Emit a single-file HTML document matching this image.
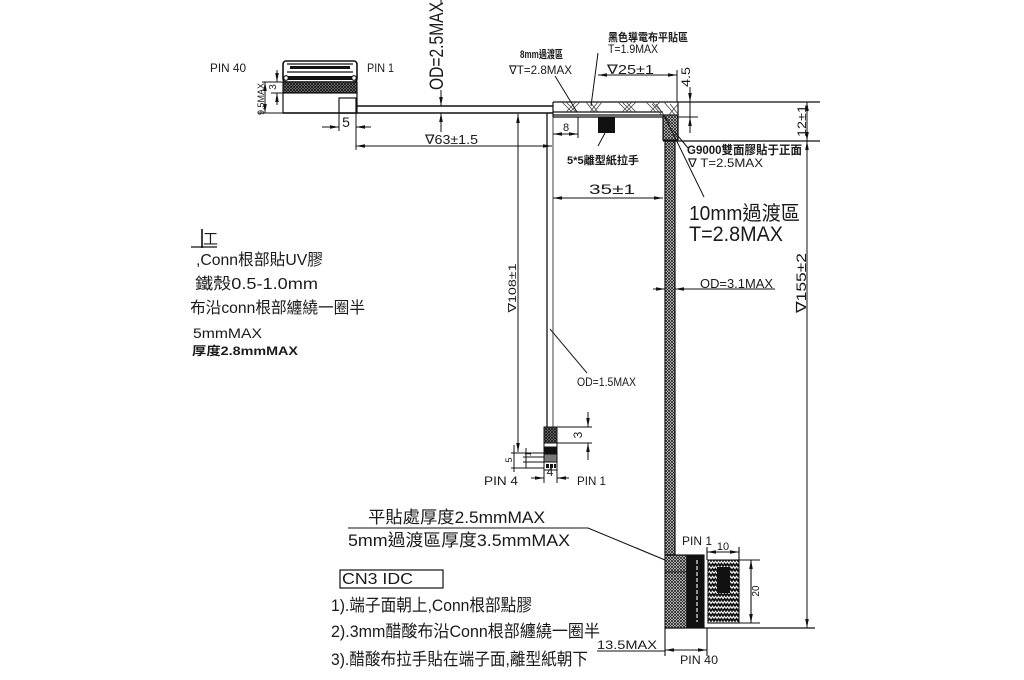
<!DOCTYPE html>
<html><head><meta charset="utf-8">
<style>
html,body{margin:0;padding:0;background:#fff;}
body{width:1024px;height:680px;overflow:hidden}
svg{display:block}
text{font-family:"Liberation Sans","DejaVu Sans","Noto Sans CJK TC",sans-serif;fill:#1a1a1a;stroke:none}
.b{font-weight:bold}
</style></head><body>
<svg width="1024" height="680" viewBox="0 0 1024 680" xmlns="http://www.w3.org/2000/svg">
<defs>
<marker id="ar" viewBox="0 0 10 4" refX="10" refY="2" markerWidth="9" markerHeight="3.6" orient="auto-start-reverse" markerUnits="userSpaceOnUse"><path d="M0,0 L10,2 L0,4z" fill="#111"/></marker>
<pattern id="ck" width="3" height="3" patternUnits="userSpaceOnUse"><rect width="3" height="3" fill="#fff"/><path d="M0,0L3,3M3,0L0,3" stroke="#222" stroke-width="0.9"/></pattern>
<pattern id="xd" width="3" height="3" patternUnits="userSpaceOnUse"><rect width="3" height="3" fill="#8a8a8a"/><path d="M0,0L3,3M3,0L0,3" stroke="#111" stroke-width="0.8"/></pattern>
<pattern id="zz" width="6" height="5" patternUnits="userSpaceOnUse"><rect width="6" height="5" fill="#111"/><path d="M0,3.5 L1.5,1.2 L3,3.5 L4.5,1.2 L6,3.5" stroke="#fff" stroke-width="1.1" fill="none"/></pattern>
<clipPath id="lc"><rect x="191" y="0" width="300" height="680"/></clipPath>
</defs>
<rect width="1024" height="680" fill="#fff"/>

<!-- ========== TOP-LEFT CONNECTOR ========== -->
<g stroke="#111" stroke-width="1.2" fill="none">
 <rect x="283" y="61" width="74" height="21" rx="3" fill="#fff" stroke-width="1.6"/>
 <line x1="287" y1="64" x2="353" y2="64"/>
 <rect x="290" y="66" width="60" height="3" fill="#111" stroke="none"/>
 <line x1="287" y1="72" x2="353" y2="72"/>
 <rect x="285" y="76" width="70" height="4" fill="#111" stroke="none"/>
 <circle cx="286" cy="78" r="2.3" fill="#fff"/><circle cx="354" cy="78" r="2.3" fill="#fff"/>
 <rect x="283" y="82" width="74" height="11" fill="url(#xd)"/>
 <rect x="283" y="93" width="74" height="20" fill="#fff"/>
 <rect x="339" y="98" width="17" height="15" fill="#fff"/>
 <!-- cable to right -->
 <line x1="356" y1="106" x2="553" y2="106" stroke-width="1.4"/>
 <line x1="283" y1="113" x2="553" y2="113" stroke-width="1.4"/>
</g>
<g stroke="#111" stroke-width="1" fill="none">
 <!-- 3 dim -->
 <line x1="271" y1="82" x2="283" y2="82"/>
 <line x1="271" y1="93" x2="283" y2="93"/>
 <line x1="277" y1="70" x2="277" y2="82" marker-end="url(#ar)"/>
 <line x1="277" y1="105" x2="277" y2="93" marker-end="url(#ar)"/>
 <!-- 9.5MAX dim -->
 <line x1="262" y1="82" x2="283" y2="82"/>
 <line x1="258" y1="113" x2="283" y2="113"/>
 <line x1="265" y1="82" x2="265" y2="113" marker-start="url(#ar)" marker-end="url(#ar)"/>
 <!-- 5 dim -->
 <line x1="339" y1="113" x2="339" y2="131"/>
 <line x1="356" y1="113" x2="356" y2="150"/>
 <line x1="322" y1="127" x2="339" y2="127" marker-end="url(#ar)"/>
 <line x1="371" y1="127" x2="356" y2="127" marker-end="url(#ar)"/>
 <!-- 63 dim -->
 <line x1="356" y1="146" x2="552" y2="146" marker-start="url(#ar)" marker-end="url(#ar)"/>
 <!-- OD 2.5 -->
 <line x1="441" y1="0" x2="441" y2="4"/>
 <line x1="441" y1="90" x2="441" y2="106" marker-end="url(#ar)"/>
 <line x1="441" y1="132" x2="441" y2="113" marker-end="url(#ar)"/>
 <!-- 108 dim -->
 <line x1="518" y1="114" x2="518" y2="452" marker-start="url(#ar)" marker-end="url(#ar)"/>
</g>
<text x="210" y="72" font-size="12" textLength="36" lengthAdjust="spacingAndGlyphs">PIN 40</text>
<text x="367" y="72" font-size="12" textLength="27" lengthAdjust="spacingAndGlyphs">PIN 1</text>
<text transform="translate(276,87) rotate(-90)" font-size="10" text-anchor="middle">3</text>
<text transform="translate(264,99) rotate(-90)" font-size="9" text-anchor="middle" textLength="32" lengthAdjust="spacingAndGlyphs">9.5MAX</text>
<text x="346" y="127" font-size="14" text-anchor="middle">5</text>
<text x="425" y="144" font-size="13" textLength="53" lengthAdjust="spacingAndGlyphs">∇63±1.5</text>
<text transform="translate(443,46) rotate(-90)" font-size="19" text-anchor="middle" textLength="88" lengthAdjust="spacingAndGlyphs">OD=2.5MAX</text>
<text transform="translate(516,288) rotate(-90)" font-size="11" text-anchor="middle" textLength="49" lengthAdjust="spacingAndGlyphs">∇108±1</text>

<!-- ========== THIN CABLE & SMALL CONNECTOR ========== -->
<line x1="547" y1="113" x2="547" y2="427" stroke="#111" stroke-width="1.3"/>
<line x1="553" y1="117" x2="553" y2="427" stroke="#888" stroke-width="1.6"/>
<line x1="550" y1="329" x2="587" y2="373" stroke="#222" stroke-width="1"/>
<text x="577" y="386" font-size="12" textLength="59" lengthAdjust="spacingAndGlyphs">OD=1.5MAX</text>
<g stroke="#111" stroke-width="1" fill="none">
 <rect x="544" y="427" width="13" height="16" fill="url(#xd)"/>
 <rect x="544" y="443" width="13" height="4" fill="#fff"/>
 <rect x="544" y="447" width="13" height="7" fill="#111"/>
 <rect x="544" y="454" width="13" height="8" fill="#777"/>
 <rect x="544" y="462" width="13" height="8" fill="#fff"/>
 <rect x="546" y="464" width="3" height="4" fill="#111" stroke="none"/>
 <rect x="550" y="464" width="3" height="4" fill="#111" stroke="none"/>
 <rect x="554" y="464" width="2" height="4" fill="#111" stroke="none"/>
 <!-- 3 dim -->
 <line x1="557" y1="427" x2="592" y2="427"/>
 <line x1="557" y1="443" x2="592" y2="443"/>
 <line x1="588" y1="412" x2="588" y2="427" marker-end="url(#ar)"/>
 <line x1="588" y1="460" x2="588" y2="443" marker-end="url(#ar)"/>
 <!-- left small dims -->
 <line x1="511" y1="453" x2="544" y2="453"/>
 <line x1="523" y1="457" x2="544" y2="457"/>
 <line x1="523" y1="462" x2="544" y2="462"/>
 <line x1="511" y1="468" x2="544" y2="468"/>
 <line x1="514" y1="445" x2="514" y2="472"/>
 <line x1="526" y1="448" x2="526" y2="468"/>
 <!-- 4 dim -->
 <line x1="544" y1="470" x2="544" y2="483"/>
 <line x1="557" y1="470" x2="557" y2="483"/>
 <line x1="531" y1="478" x2="544" y2="478" marker-end="url(#ar)"/>
 <line x1="569" y1="478" x2="557" y2="478" marker-end="url(#ar)"/>
</g>
<text transform="translate(582,435) rotate(-90)" font-size="12" text-anchor="middle">3</text>
<text transform="translate(512,460) rotate(-90)" font-size="9" text-anchor="middle">5</text>
<text transform="translate(531,454) rotate(-90)" font-size="8" text-anchor="middle">1</text>
<text x="550" y="476" font-size="12" text-anchor="middle">4</text>
<text x="484" y="485" font-size="12" textLength="34" lengthAdjust="spacingAndGlyphs">PIN 4</text>
<text x="577" y="485" font-size="12" textLength="29" lengthAdjust="spacingAndGlyphs">PIN 1</text>

<!-- ========== TOP FLAT CABLE + BEND ========== -->
<g stroke="#111" stroke-width="1.2" fill="none">
 <line x1="553" y1="102" x2="820" y2="102" stroke-width="1.3"/>
 <line x1="553" y1="102" x2="553" y2="117"/>
 <line x1="553" y1="112" x2="663" y2="112"/>
 <line x1="553" y1="115" x2="663" y2="115"/>
 <line x1="553" y1="117" x2="663" y2="117"/>
 <line x1="678" y1="102" x2="678" y2="140"/>
 <rect x="663" y="115" width="15" height="25" fill="url(#ck)"/>
 <line x1="663" y1="141" x2="820" y2="141" stroke-width="1.3"/>
 <rect x="665" y="141" width="10" height="414" fill="url(#ck)"/>
</g>
<g stroke="#444" stroke-width="0.8" fill="none">
 <path d="M562,102L572,112M566,102L576,112M576,102L566,112M580,102L570,112"/>
 <path d="M586,102L594,112M590,102L598,112M598,102L590,112M602,102L594,112"/>
 <path d="M618,102L628,112M622,102L632,112M632,102L622,112M636,102L626,112M626,102L636,112"/>
 <path d="M646,102L656,112M652,102L662,112M660,102L650,112M664,102L676,116M670,104L678,114M668,116L678,104"/>
 <path d="M652,104L668,122M656,104L672,126"/>
</g>
<rect x="598" y="117" width="17" height="16" fill="#111"/>
<g stroke="#111" stroke-width="1" fill="none">
 <!-- leaders -->
 <line x1="605" y1="133" x2="598" y2="146"/>
 <line x1="555" y1="76" x2="577" y2="112"/>
 <line x1="598" y1="53" x2="591" y2="106"/>
 <line x1="673" y1="130" x2="688" y2="148"/>
 <line x1="664" y1="115" x2="704" y2="197"/>
 <!-- 25 dim -->
 <line x1="598" y1="75" x2="677" y2="75" marker-start="url(#ar)" marker-end="url(#ar)"/>
 <line x1="677" y1="70" x2="677" y2="102"/>
 <!-- 4.5 dim -->
 <line x1="677" y1="117" x2="698" y2="117"/>
 <line x1="690" y1="87" x2="690" y2="102" marker-end="url(#ar)"/>
 <line x1="690" y1="102" x2="690" y2="117"/>
 <line x1="690" y1="133" x2="690" y2="117" marker-end="url(#ar)"/>
 <!-- 8 dim -->
 <line x1="578" y1="117" x2="578" y2="138"/>
 <line x1="553" y1="134" x2="578" y2="134" marker-start="url(#ar)" marker-end="url(#ar)"/>
 <!-- 35 dim -->
 <line x1="553" y1="198" x2="663" y2="198" marker-start="url(#ar)" marker-end="url(#ar)"/>
 <!-- 12 / 155 dims -->
 <line x1="807" y1="102" x2="807" y2="141" marker-start="url(#ar)" marker-end="url(#ar)"/>
 <line x1="807" y1="141" x2="807" y2="628" marker-start="url(#ar)" marker-end="url(#ar)"/>
 <!-- OD 3.1 -->
 <line x1="653" y1="289" x2="665" y2="289" marker-end="url(#ar)"/>
 <line x1="690" y1="289" x2="675" y2="289" marker-end="url(#ar)"/>
 <line x1="675" y1="289" x2="775" y2="289"/>
</g>
<text x="520" y="58" font-size="11" class="b" textLength="43" lengthAdjust="spacingAndGlyphs">8mm過渡區</text>
<text x="509" y="74" font-size="12" textLength="63" lengthAdjust="spacingAndGlyphs">∇T=2.8MAX</text>
<text x="608" y="41" font-size="11" class="b" textLength="80" lengthAdjust="spacingAndGlyphs">黑色導電布平貼區</text>
<text x="608" y="53" font-size="12" textLength="50" lengthAdjust="spacingAndGlyphs">T=1.9MAX</text>
<text x="607" y="74" font-size="13" textLength="47" lengthAdjust="spacingAndGlyphs">∇25±1</text>
<text transform="translate(690,77) rotate(-90)" font-size="12" text-anchor="middle" textLength="20" lengthAdjust="spacingAndGlyphs">4.5</text>
<text x="566" y="131" font-size="11" text-anchor="middle">8</text>
<text x="567" y="164" font-size="11" class="b" textLength="72" lengthAdjust="spacingAndGlyphs">5*5離型紙拉手</text>
<text x="687" y="154" font-size="12" class="b" textLength="115" lengthAdjust="spacingAndGlyphs">G9000雙面膠貼于正面</text>
<text x="688" y="167" font-size="12" textLength="75" lengthAdjust="spacingAndGlyphs">∇ T=2.5MAX</text>
<text x="589" y="194" font-size="14" textLength="46" lengthAdjust="spacingAndGlyphs">35±1</text>
<text x="689" y="220" font-size="20" textLength="111" lengthAdjust="spacingAndGlyphs">10mm過渡區</text>
<text x="689" y="241" font-size="21" textLength="94" lengthAdjust="spacingAndGlyphs">T=2.8MAX</text>
<text x="700" y="288" font-size="13" textLength="73" lengthAdjust="spacingAndGlyphs">OD=3.1MAX</text>
<text transform="translate(806,121) rotate(-90)" font-size="12" text-anchor="middle" textLength="32" lengthAdjust="spacingAndGlyphs">12±1</text>
<text transform="translate(806,283) rotate(-90)" font-size="14" text-anchor="middle" textLength="60" lengthAdjust="spacingAndGlyphs">∇155±2</text>

<!-- ========== BOTTOM CONNECTOR ========== -->
<g stroke="#111" stroke-width="1.1" fill="none">
 <rect x="665" y="555" width="22" height="73" fill="url(#ck)"/>
 <line x1="665" y1="572" x2="687" y2="572"/>
 <rect x="687" y="555" width="17" height="72" fill="#111"/>
 <line x1="697" y1="560" x2="697" y2="622" stroke="#fff" stroke-dasharray="4 2"/>
 <rect x="708" y="560" width="31" height="63" fill="url(#zz)"/>
 <rect x="717" y="567" width="13" height="26" fill="#111" stroke="none"/>
 <line x1="665" y1="628" x2="815" y2="628" stroke-width="1.3"/>
 <!-- 10 dim -->
 <line x1="707" y1="547" x2="707" y2="560"/>
 <line x1="739" y1="547" x2="739" y2="560"/>
 <line x1="707" y1="552" x2="739" y2="552" marker-start="url(#ar)" marker-end="url(#ar)"/>
 <!-- 20 dim -->
 <line x1="739" y1="560" x2="760" y2="560"/>
 <line x1="739" y1="623" x2="760" y2="623"/>
 <line x1="751" y1="560" x2="751" y2="623" marker-start="url(#ar)" marker-end="url(#ar)"/>
 <!-- 13.5 dim -->
 <line x1="665" y1="628" x2="665" y2="656"/>
 <line x1="707" y1="628" x2="707" y2="656"/>
 <line x1="665" y1="650" x2="707" y2="650" marker-start="url(#ar)" marker-end="url(#ar)"/>
 <line x1="597" y1="651" x2="665" y2="651"/>
 <!-- leader from bottom-left notes -->
 <polyline points="348,528 588,528 665,560"/>
</g>
<text x="723" y="550" font-size="11" text-anchor="middle">10</text>
<text transform="translate(759,591) rotate(-90)" font-size="10" text-anchor="middle">20</text>
<text x="682" y="545" font-size="12" textLength="30" lengthAdjust="spacingAndGlyphs">PIN 1</text>
<text x="680" y="664" font-size="12" textLength="38" lengthAdjust="spacingAndGlyphs">PIN 40</text>
<text x="597" y="649" font-size="12" textLength="60" lengthAdjust="spacingAndGlyphs">13.5MAX</text>

<!-- ========== BOTTOM-LEFT NOTES ========== -->
<text x="368" y="523" font-size="17" textLength="177" lengthAdjust="spacingAndGlyphs">平貼處厚度2.5mmMAX</text>
<text x="348" y="546" font-size="17" textLength="222" lengthAdjust="spacingAndGlyphs">5mm過渡區厚度3.5mmMAX</text>
<rect x="340" y="570" width="103" height="18" fill="none" stroke="#111" stroke-width="1.2"/>
<text x="342" y="584" font-size="16" textLength="71" lengthAdjust="spacingAndGlyphs">CN3 IDC</text>
<text x="331" y="611" font-size="17" textLength="201" lengthAdjust="spacingAndGlyphs">1).端子面朝上,Conn根部點膠</text>
<text x="331" y="637" font-size="17" textLength="269" lengthAdjust="spacingAndGlyphs">2).3mm醋酸布沿Conn根部纏繞一圈半</text>
<text x="331" y="665" font-size="17" textLength="257" lengthAdjust="spacingAndGlyphs">3).醋酸布拉手貼在端子面,離型紙朝下</text>

<!-- ========== LEFT CROPPED NOTES ========== -->
<g clip-path="url(#lc)">
 <line x1="202" y1="229" x2="202" y2="248" stroke="#111" stroke-width="1.6"/>
 <line x1="191" y1="247" x2="217" y2="247" stroke="#111" stroke-width="1.3"/>
 <text x="203" y="244" font-size="15">工</text>
 <text x="196" y="265" font-size="16" textLength="127" lengthAdjust="spacingAndGlyphs">,Conn根部貼UV膠</text>
 <text x="195" y="289" font-size="16" textLength="123" lengthAdjust="spacingAndGlyphs">鐵殼0.5-1.0mm</text>
 <text x="190" y="313" font-size="16" textLength="175" lengthAdjust="spacingAndGlyphs">布沿conn根部纏繞一圈半</text>
 <text x="193" y="338" font-size="14" textLength="69" lengthAdjust="spacingAndGlyphs">5mmMAX</text>
 <text x="192" y="355" font-size="12" class="b" textLength="106" lengthAdjust="spacingAndGlyphs">厚度2.8mmMAX</text>
</g>
</svg>
</body></html>
